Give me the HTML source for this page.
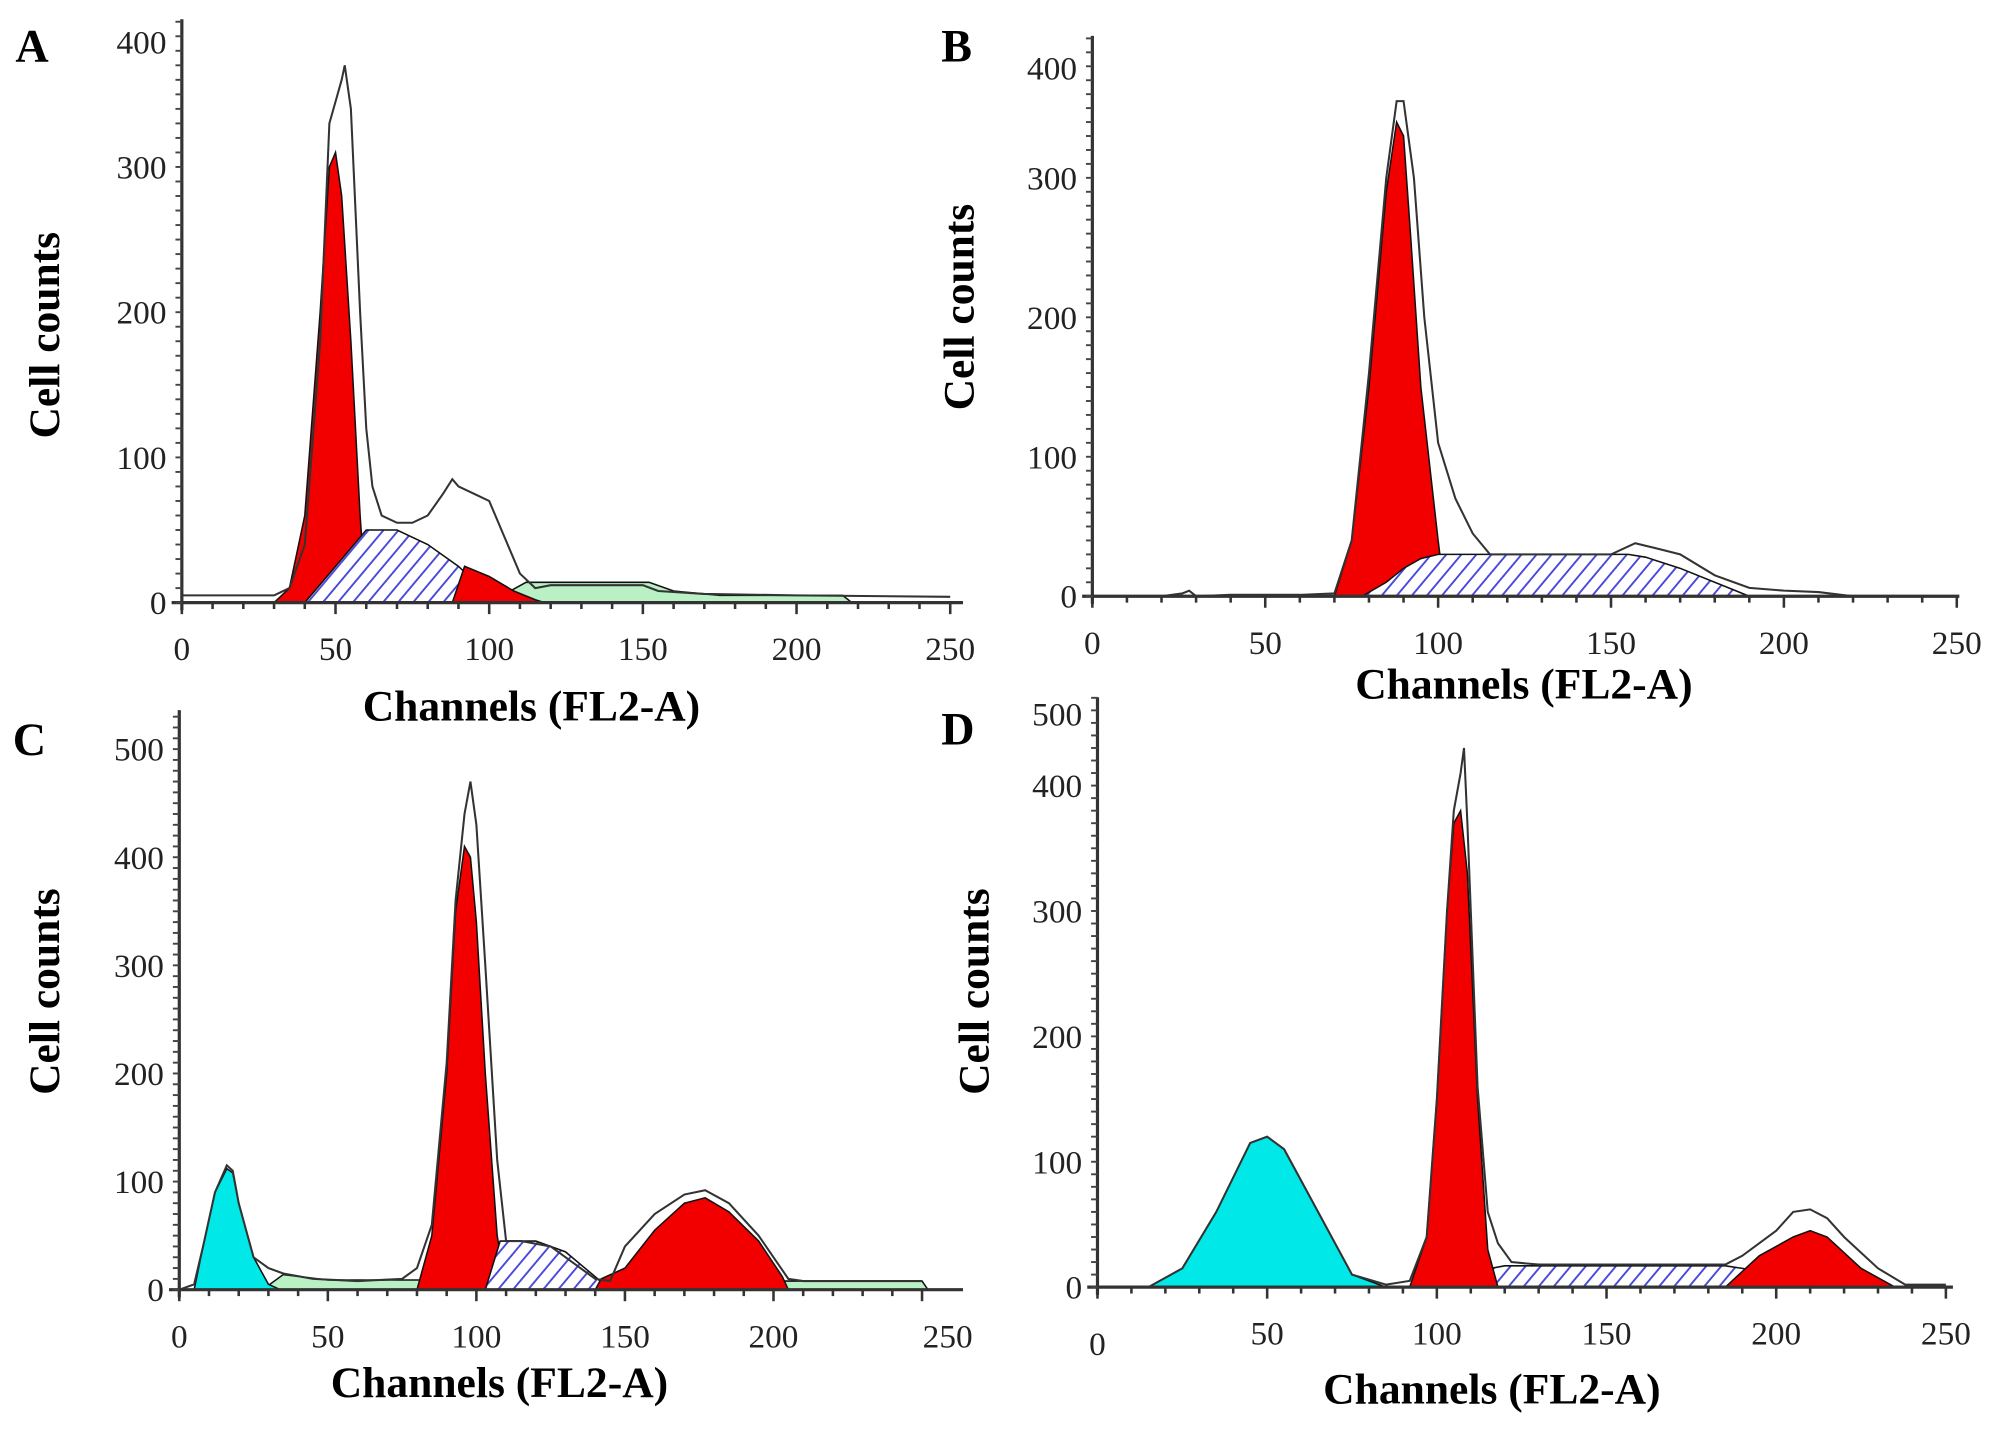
<!DOCTYPE html>
<html><head><meta charset="utf-8"><style>
html,body{margin:0;padding:0;background:#fff}
svg{display:block}
text{font-family:"Liberation Serif",serif}
.t{font-size:26px;fill:#222}
.lab{font-size:36px;font-weight:bold}
.ax{font-size:34px;font-weight:bold}
</style></head><body>
<svg id="fig" width="2008" height="1433" viewBox="0 0 1568 1120" preserveAspectRatio="none" xmlns="http://www.w3.org/2000/svg">
<defs>
<pattern id="hatch" patternUnits="userSpaceOnUse" width="9" height="9" patternTransform="rotate(40)">
<rect width="9" height="9" fill="#fff"/><line x1="0" y1="0" x2="0" y2="9" stroke="#4a4adc" stroke-width="3"/>
</pattern>
</defs>
</svg>
<script>
// Panel A data
const aOutX=[0,10,20,30,35,40,45,48,50,52,53,55,58,60,62,65,70,75,80,85,88,90,95,100,105,110,115,120,130,150,155,170,200,250];
const aOutY=[5,5,5,5,10,40,180,330,345,360,370,340,200,120,80,60,55,55,60,75,85,80,75,70,45,20,10,12,12,12,8,6,5,4];
const aRedX=[30,35,40,45,48,50,52,55,58,60];
const aRedY=[0,10,60,200,300,310,280,180,60,0];
const aHatX=[40,50,60,70,80,90,100,105];
const aHatY=[0,25,50,50,40,25,5,0];
const aRed2X=[88,92,100,108,115,118];
const aRed2Y=[0,25,18,8,2,0];
const aGrnX=[100,112,135,152,160,175,215,218];
const aGrnY=[0,14,14,14,8,5,5,0];
// Panel B data
const bOutX=[0,20,26,28,30,40,60,70,75,80,85,88,90,93,96,100,105,110,115,120,150,157,162,170,180,190,200,210,220,230];
const bOutY=[0,0,2,4,0,1,1,2,40,160,300,355,355,300,200,110,70,45,30,30,30,38,35,30,15,6,4,3,0,0];
const bRedX=[70,75,80,85,88,90,92,95,100,102];
const bRedY=[0,40,150,290,340,330,260,150,40,0];
const bHatX=[78,85,90,95,100,155,160,170,185,190];
const bHatY=[0,10,20,27,30,30,28,20,5,0];
// Panel C data
const cOutX=[0,5,8,12,16,18,20,25,30,35,45,60,75,80,85,90,93,96,98,100,103,107,110,115,125,135,140,145,150,160,170,177,185,195,205,210,250];
const cOutY=[0,5,40,90,115,110,80,30,20,15,10,8,10,20,60,210,360,440,470,430,300,120,45,45,40,20,10,8,40,70,88,92,80,50,10,8,8];
const cCyX=[5,8,12,16,18,20,25,30,34];
const cCyY=[0,40,90,112,108,80,30,5,0];
const cGrnX=[28,35,50,70,82,84];
const cGrnY=[0,14,9,9,9,0];
const cGrn2X=[110,140,250,252];
const cGrn2Y=[8,8,8,0];
const cRedX=[80,85,90,93,96,98,100,103,107,110];
const cRedY=[0,50,200,350,410,400,340,200,50,0];
const cHatX=[103,108,120,130,140,145];
const cHatY=[0,45,45,35,12,0];
const cRed2X=[140,142,150,160,170,177,185,195,203,205];
const cRed2Y=[0,10,20,55,80,85,72,45,12,0];
// Panel D data
const dOutX=[0,15,25,35,45,50,55,65,75,85,92,97,100,103,105,107,108,109,112,115,118,122,130,150,185,190,200,205,210,215,220,230,238,250];
const dOutY=[0,0,15,60,115,120,110,60,10,2,5,40,150,300,380,410,430,370,160,60,35,20,18,18,18,25,45,60,62,55,40,15,2,2];
const dCyX=[15,25,35,45,50,55,65,75,85];
const dCyY=[0,15,60,115,120,110,60,10,0];
const dRedX=[92,97,100,103,105,107,109,112,115,118];
const dRedY=[0,40,150,300,370,380,330,150,30,0];
const dHatX=[100,110,120,150,185,190,215,225];
const dHatY=[0,12,17,17,17,15,5,0];
const dRed2X=[185,195,205,210,215,225,235];
const dRed2Y=[0,25,40,45,40,15,0];
// Tick labels
const yTicksAB=[0,100,200,300];
const yTicksC=[0,100,200,300,400,500];
const yTicksD=[0,100,200,300,400];
const xTicks=[0,50,100,150,200,250];

const NS='http://www.w3.org/2000/svg';
const svg=document.getElementById('fig');
function mk(tag,attrs,parent){const e=document.createElementNS(NS,tag);for(const k in attrs)e.setAttribute(k,attrs[k]);(parent||svg).appendChild(e);return e;}

function panel(cfg){
  const g=mk('g',{});
  
  
  const X=c=>cfg.x0+c*cfg.kx, Y=v=>cfg.y0-v*cfg.ky;
  function area(xs,ys,fill,name){
    let d='M'+X(xs[0])+','+cfg.y0;
    xs.forEach((c,i)=>{d+=' L'+X(c)+','+Y(ys[i]);});
    d+=' L'+X(xs[xs.length-1])+','+cfg.y0+'Z';
    const p=mk('path',{d:d,fill:fill,stroke:'#111','stroke-width':1.2},g);
    
    
  }
  cfg.areas.forEach(a=>area(a[0],a[1],a[2],a[3]));
  let pts=cfg.outX.map((c,i)=>X(c)+','+Y(cfg.outY[i])).join(' ');
  const ol=mk('polyline',{points:pts,fill:'none',stroke:'#333','stroke-width':1.6},g);
  
  
  const ya=mk('line',{x1:cfg.x0,y1:cfg.top,x2:cfg.x0,y2:cfg.y0+6,stroke:'#333','stroke-width':2.5},g);
  
  
  const xa=mk('line',{x1:cfg.x0-8,y1:cfg.y0,x2:cfg.xend,y2:cfg.y0,stroke:'#333','stroke-width':2.5},g);
  
  
  for(let c=0;c<=250;c+=10){mk('line',{x1:X(c),y1:cfg.y0,x2:X(c),y2:cfg.y0+(c%50?5:9),stroke:'#333','stroke-width':2},g);}
  for(let y=cfg.y0;y>cfg.top;y-=cfg.ky*10){mk('line',{x1:cfg.x0-5,y1:y,x2:cfg.x0,y2:y,stroke:'#444','stroke-width':1.5},g);}
  xTicks.forEach(v=>{const t=mk('text',{x:X(v)+(v==250?cfg.off250:0),y:cfg.y0+45+(v==0?cfg.off0:0),'text-anchor':'middle',class:'t'},g);t.textContent=v;
    
    });
  cfg.yt.forEach(v=>{const t=mk('text',{x:cfg.x0-12,y:Y(v)+9,'text-anchor':'end',class:'t'},g);t.textContent=v;
    
    });
  if(cfg.topY){const t=mk('text',{x:cfg.x0-12,y:cfg.topY,'text-anchor':'end',class:'t'},g);t.textContent=cfg.topT;
    
    }
  const L=mk('text',{x:cfg.lx,y:cfg.ly,class:'lab'},g);L.textContent=cfg.id;
  
  
  const yt=mk('text',{x:0,y:0,class:'ax','text-anchor':'middle',transform:'translate('+cfg.ytx+','+cfg.yty+') rotate(-90)'},g);yt.textContent='Cell counts';
  
  
  const xt=mk('text',{x:cfg.xtx,y:cfg.xty,class:'ax','text-anchor':'middle'},g);xt.textContent='Channels (FL2-A)';
  
  
}
const G='#b9f0c4',C='#00e8e8',R='#f20000',H='url(#hatch)';
panel({id:'A',x0:142,kx:2.4,y0:471,ky:1.135,top:15,xend:752,off250:0,off0:0,yt:yTicksAB,topY:42,topT:'400',lx:12,ly:48,ytx:46,yty:262,xtx:415,xty:563,
  outX:aOutX,outY:aOutY,areas:[[aGrnX,aGrnY,G,'g2m-green-area'],[aRedX,aRedY,R,'g1-peak'],[aHatX,aHatY,H,'s-phase-hatch'],[aRed2X,aRed2Y,R,'g2-peak']]});
panel({id:'B',x0:853,kx:2.70,y0:466,ky:1.09,top:28,xend:1530,off250:0,off0:0,yt:yTicksAB,topY:62,topT:'400',lx:735,ly:48,ytx:760,yty:240,xtx:1190,xty:546,
  outX:bOutX,outY:bOutY,areas:[[bRedX,bRedY,R,'g1-peak'],[bHatX,bHatY,H,'s-phase-hatch']]});
panel({id:'C',x0:140,kx:2.32,y0:1008,ky:0.845,top:555,xend:752,off250:20,off0:0,yt:yTicksC,lx:10,ly:590,ytx:46,yty:775,xtx:390,xty:1092,
  outX:cOutX,outY:cOutY,areas:[[cGrnX,cGrnY,G,'debris-green'],[cGrn2X,cGrn2Y,G,'debris-green-right'],[cCyX,cCyY,C,'apoptotic-peak'],[cRedX,cRedY,R,'g1-peak'],[cHatX,cHatY,H,'s-phase-hatch'],[cRed2X,cRed2Y,R,'g2-peak']]});
panel({id:'D',x0:857,kx:2.65,y0:1006,ky:0.98,top:545,xend:1525,off250:0,off0:8,yt:yTicksD,topY:567,topT:'500',lx:735,ly:582,ytx:772,yty:775,xtx:1165,xty:1097,
  outX:dOutX,outY:dOutY,areas:[[dCyX,dCyY,C,'apoptotic-peak'],[dHatX,dHatY,H,'s-phase-hatch'],[dRedX,dRedY,R,'g1-peak'],[dRed2X,dRed2Y,R,'g2-peak']]});
</script>
</body></html>
